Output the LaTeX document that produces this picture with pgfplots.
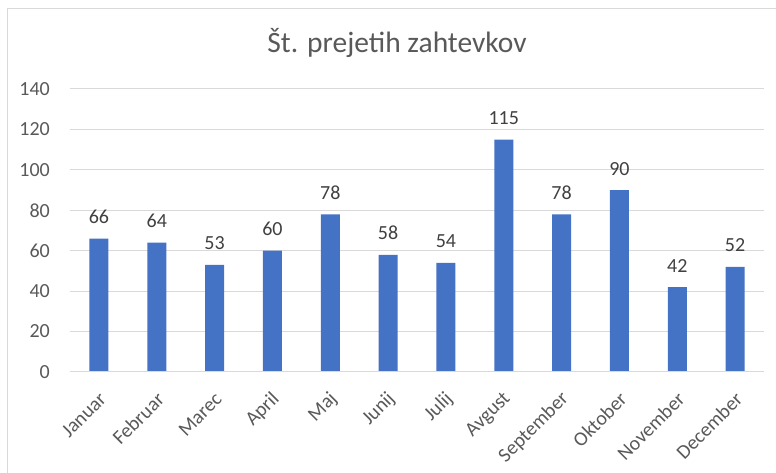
\documentclass[border=0pt]{standalone}
\usepackage{pgfplots}
\pgfplotsset{compat=1.18}
\usepackage{fontspec}
\setmainfont{Carlito}
\definecolor{barblue}{HTML}{4472C4}
\definecolor{txtgray}{HTML}{595959}
\definecolor{lblgray}{HTML}{404040}
\definecolor{gridgray}{HTML}{D9D9D9}
\begin{document}
\begin{tikzpicture}[x=1pt,y=1pt]
\useasboundingbox (0,0) rectangle (776,473);
\draw[gridgray, line width=1pt] (7,0) -- (7,464) -- (776,464);
\node[anchor=base, text=txtgray, font=\fontsize{29.5}{32}\selectfont] at (397,420) {Št. prejetih zahtevkov};
\begin{axis}[
  at={(70pt,101pt)}, anchor=south west,
  scale only axis, width=694pt, height=283pt,
  xmin=-0.5, xmax=11.5, ymin=0, ymax=140,
  ytick={0,20,...,140},
  xtick={0,...,11},
  xticklabels={Januar,Februar,Marec,April,Maj,Junij,Julij,Avgust,September,Oktober,November,December},
  axis line style={draw=none},
  axis x line*=bottom, axis y line*=left,
  ymajorgrids, grid style={gridgray, line width=1pt},
  major tick length=0pt,
  /pgf/number format/assume math mode=true,
  tick label style={text=txtgray, font=\fontsize{20}{22}\selectfont},
  yticklabel style={anchor=east, inner sep=0pt, xshift=-20pt},
  xticklabel style={xshift=4pt, yshift=-24pt, rotate=45, anchor=east, inner sep=0pt},
  clip=false,
]
\addplot[ybar, bar width=19pt, fill=barblue, draw=none,
  nodes near coords,
  every node near coord/.append style={anchor=base, yshift=15pt, text=lblgray, font=\fontsize{20}{22}\selectfont}]
  coordinates {(0,66) (1,64) (2,53) (3,60) (4,78) (5,58) (6,54) (7,115) (8,78) (9,90) (10,42) (11,52)};
\draw[gridgray, line width=1pt] (axis cs:-0.5,0) -- (axis cs:11.5,0);
\end{axis}
\end{tikzpicture}
\end{document}
